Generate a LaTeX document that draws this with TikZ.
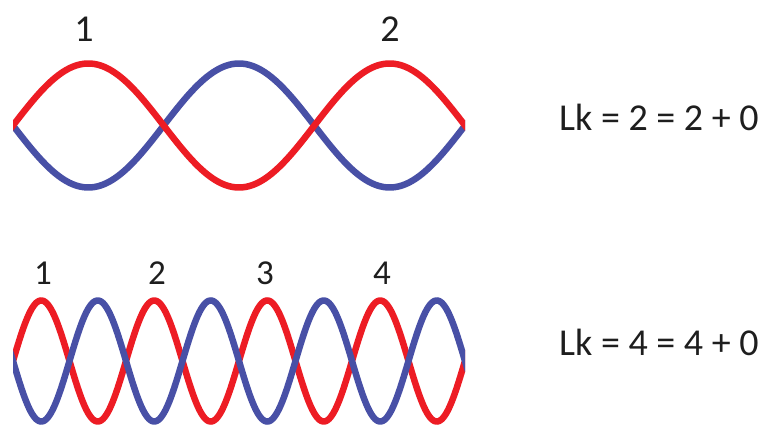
\documentclass[tikz,border=0pt]{standalone}
\usepackage{fontspec}
\setmainfont{Carlito}
\definecolor{wred}{RGB}{237,28,36}
\definecolor{wblue}{RGB}{72,80,166}
\definecolor{txt}{RGB}{30,30,30}
\begin{document}
\begin{tikzpicture}[x=1pt,y=-1pt,
  strand/.style={line width=6.5pt},
  toplabel/.style={anchor=base,inner sep=0pt,text=txt,font=\fontsize{38}{38}\selectfont},
  botlabel/.style={anchor=base,inner sep=0pt,text=txt,font=\fontsize{35}{35}\selectfont},
  lktext/.style={anchor=base west,inner sep=0pt,text=txt,font=\fontsize{38}{38}\selectfont}]
\useasboundingbox[fill=white] (0,0) rectangle (763,430);
% top pair
\begin{scope}
\clip (13,0) rectangle (465,230);
\draw[strand,wblue] plot[domain=10:468,samples=220,smooth] (\x,{125.5+62*sin(1.19466*(\x-13))});
\draw[strand,wred] plot[domain=10:468,samples=220,smooth] (\x,{125.5-62*sin(1.19466*(\x-13))});
\end{scope}
% bottom pair
\begin{scope}
\clip (13,240) rectangle (465,430);
\draw[strand,wred] plot[domain=10:468,samples=400,smooth] (\x,{361-60.5*sin(3.18584*(\x-13))});
\draw[strand,wblue] plot[domain=10:468,samples=400,smooth] (\x,{361+60.5*sin(3.18584*(\x-13))});
\end{scope}
\node[toplabel] (t1) at (84,42) {1};
\node[toplabel] (t2) at (390,42) {2};
\node[botlabel] (b1) at (43,285) {1};
\node[botlabel] (b2) at (157,285) {2};
\node[botlabel] (b3) at (265,285) {3};
\node[botlabel] (b4) at (382,285) {4};
\node[lktext] (lk1) at (559,131) {Lk = 2 = 2 + 0};
\node[lktext] (lk2) at (559,355) {Lk = 4 = 4 + 0};
\end{tikzpicture}
\end{document}
